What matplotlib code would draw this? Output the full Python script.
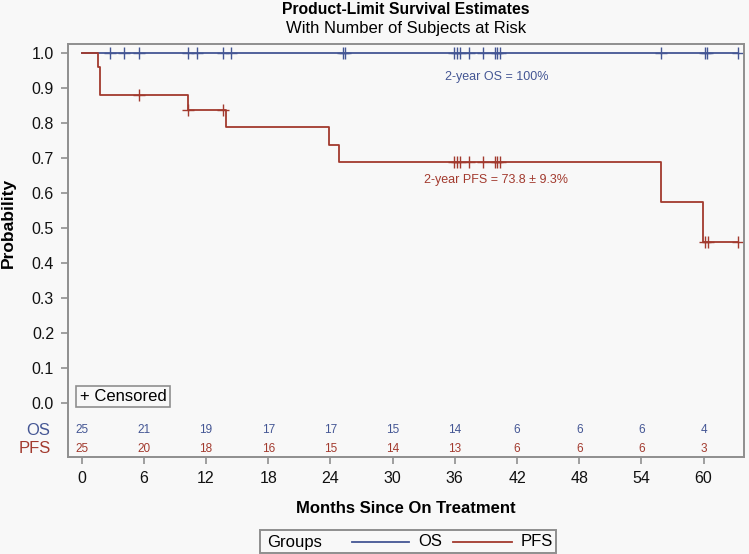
import matplotlib
matplotlib.use("Agg")
import matplotlib.pyplot as plt
import numpy as np
from matplotlib.lines import Line2D
from matplotlib.patches import Rectangle
from matplotlib.transforms import blended_transform_factory

plt.rcParams['font.family'] = ['Liberation Sans', 'DejaVu Sans']

# data
risk_times = [0, 6, 12, 18, 24, 30, 36, 42, 48, 54, 60]
os_at_risk = [25, 21, 19, 17, 17, 15, 14, 6, 6, 6, 4]
pfs_at_risk = [25, 20, 18, 16, 15, 14, 13, 6, 6, 6, 3]

os_times = [0, 63.3]
os_surv = [1.0, 1.0]
os_censored = [2.7, 4.1, 5.5, 10.3, 11.1, 13.6, 14.4, 25.2, 25.4, 35.9, 36.2,
               36.5, 37.4, 38.7, 39.9, 40.1, 40.4, 55.9, 60.1, 60.3, 63.3]

pfs_times = [0, 1.6, 1.8, 10.3, 13.9, 23.9, 24.8, 55.9, 59.9, 63.3]
pfs_surv = [1.0, 0.96, 0.88, 0.836, 0.787, 0.737, 0.688, 0.573, 0.459, 0.459]
pfs_censored = [5.5, 10.3, 13.6, 35.9, 36.2, 36.5, 37.4, 38.7, 39.9, 40.1,
                40.4, 60.1, 60.4, 63.3]

os_color = '#445694'
pfs_color = '#a23a2e'
bg = '#f8f8f8'
frame = '#8f8f8f'

fig = plt.figure(figsize=(7.49, 5.54), dpi=100, facecolor=bg)
ax = fig.add_axes([68/749, 1 - 457/554, 676/749, 413/554], facecolor=bg)


def step_value(times, surv, t):
    i = np.searchsorted(times, t, side='right') - 1
    return np.asarray(surv)[i]


ax.step(os_times, os_surv, where='post', color=os_color, lw=1.3)
ax.plot(os_censored, step_value(os_times, os_surv, os_censored), ls='none',
        marker='+', ms=8, mew=1.0, color=os_color)
ax.step(pfs_times, pfs_surv, where='post', color=pfs_color, lw=1.3)
ax.plot(pfs_censored, step_value(pfs_times, pfs_surv, pfs_censored), ls='none',
        marker='+', ms=8, mew=1.0, color=pfs_color)

ax.set_xlim(-1.32, 63.9)
ax.set_ylim(-0.155, 1.025)
ax.set_xticks(risk_times)
ax.set_yticks(np.round(np.arange(0, 1.01, 0.1), 1))
ax.set_yticklabels([f"{v:.1f}" for v in np.arange(0, 1.01, 0.1)])
ax.tick_params(axis='both', color=frame, length=5, width=1.2, labelsize=11.5,
               labelcolor='#111111')
ax.tick_params(axis='y', pad=5)
ax.tick_params(axis='x', pad=5)
for s in ax.spines.values():
    s.set_color(frame)
    s.set_linewidth(1.4)

ax.set_xlabel("Months Since On Treatment", fontsize=12, fontweight='bold', labelpad=11)
ax.set_ylabel("Probability", fontsize=12.5, fontweight='bold')
ax.yaxis.set_label_coords(-0.077, 0.567)

# at-risk table
for t, n in zip(risk_times, os_at_risk):
    ax.text(t, -0.078, str(n), color=os_color, fontsize=8.5, ha='center', va='center')
for t, n in zip(risk_times, pfs_at_risk):
    ax.text(t, -0.132, str(n), color=pfs_color, fontsize=8.5, ha='center', va='center')
tr = blended_transform_factory(ax.transAxes, ax.transData)
ax.text(-0.026, -0.078, "OS", color=os_color, fontsize=12, ha='right', va='center',
        transform=tr, clip_on=False)
ax.text(-0.026, -0.132, "PFS", color=pfs_color, fontsize=12, ha='right', va='center',
        transform=tr, clip_on=False)

ax.text(40, 0.931, "2-year OS = 100%", color=os_color, fontsize=9, ha='center', va='center')
ax.text(40, 0.636, "2-year PFS = 73.8 ± 9.3%", color=pfs_color, fontsize=9,
        ha='center', va='center')

ax.text(0.0175, 0.1465, "+ Censored", transform=ax.transAxes, fontsize=12,
        ha='left', va='center',
        bbox=dict(boxstyle='square,pad=0.2', fc=bg, ec=frame, lw=1.2))

# titles
fig.text(406/749, 1 - 10/554, "Product-Limit Survival Estimates", fontsize=11.3,
         fontweight='bold', ha='center', va='center')
fig.text(406/749, 1 - 29/554, "With Number of Subjects at Risk", fontsize=12,
         ha='center', va='center')

# legend box at bottom
fig.patches.append(Rectangle((260/749, 1 - 553/554), 296/749, 23/554,
                             transform=fig.transFigure, fc=bg, ec=frame, lw=1.4))
ly = 1 - 542/554
fig.text(267/749, ly, "Groups", fontsize=12, ha='left', va='center')
fig.lines.append(Line2D([352/749, 409/749], [ly, ly], transform=fig.transFigure,
                        color=os_color, lw=1.3))
fig.text(418/749, ly, "OS", fontsize=12, ha='left', va='center')
fig.lines.append(Line2D([453/749, 512/749], [ly, ly], transform=fig.transFigure,
                        color=pfs_color, lw=1.3))
fig.text(521/749, ly, "PFS", fontsize=12, ha='left', va='center')

fig.savefig("out.png", dpi=100, facecolor=bg)
